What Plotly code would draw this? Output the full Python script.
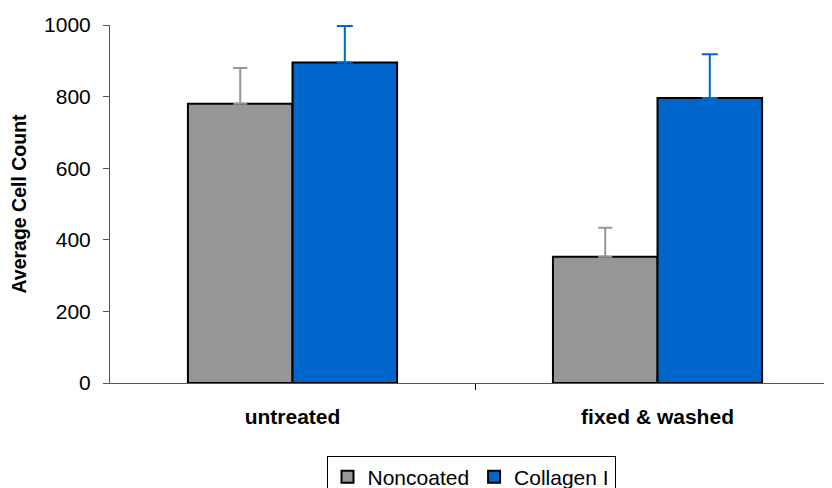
import plotly.graph_objects as go

categories = ["untreated", "fixed &amp; washed"]
cat_pos = [0, 1]
noncoated = [780, 353]
noncoated_err = [100, 81]
collagen = [895, 796]
collagen_err = [102, 122]
no_lower = [None, None]
y_ticks = [0, 200, 400, 600, 800, 1000]

FONT = "Arial, 'Liberation Sans', sans-serif"
GRAY = "#969696"
BLUE = "#0066CC"

fig = go.Figure()
fig.add_trace(go.Bar(
    x=cat_pos, y=noncoated, name="Noncoated",
    marker=dict(color=GRAY, line=dict(color="#000000", width=2)),
    error_y=dict(type="data", symmetric=False, array=noncoated_err,
                 arrayminus=no_lower, color=GRAY, thickness=2, width=7),
))
fig.add_trace(go.Bar(
    x=cat_pos, y=collagen, name="Collagen I",
    marker=dict(color=BLUE, line=dict(color="#000000", width=2)),
    error_y=dict(type="data", symmetric=False, array=collagen_err,
                 arrayminus=no_lower, color=BLUE, thickness=2, width=8),
))

fig.update_layout(
    width=832, height=488,
    margin=dict(l=102, r=8, t=17, b=113, autoexpand=False),
    paper_bgcolor="white", plot_bgcolor="white",
    barmode="group", bargap=0.427, bargroupgap=0,
    font=dict(family=FONT, color="#000000", size=21),
    showlegend=True,
    legend=dict(orientation="h", x=0.5, xanchor="center", y=-0.203, yanchor="top",
                bordercolor="#000000", borderwidth=1, font=dict(size=21),
                itemwidth=30, tracegroupgap=0),
    xaxis=dict(
        range=[-0.5, 1.478], tickmode="array", tickvals=cat_pos,
        ticktext=["<b>" + c + "</b>" for c in categories],
        ticks="", showline=True, linecolor="#555555", linewidth=1,
        showgrid=False, zeroline=False, ticklabelstandoff=15, automargin=False,
        minor=dict(tickvals=[0.5], ticks="outside", ticklen=6, tickcolor="#000000", tickwidth=1),
    ),
    yaxis=dict(
        range=[0, 1000], tickmode="array", tickvals=y_ticks,
        ticks="outside", ticklen=6, tickcolor="#555555",
        showline=True, linecolor="#555555", linewidth=1,
        showgrid=False, zeroline=False, ticklabelstandoff=8, automargin=False,
        title=dict(text="<b>Average Cell Count</b>", font=dict(size=19.5), standoff=15),
    ),
)

fig.write_html("out.html")
